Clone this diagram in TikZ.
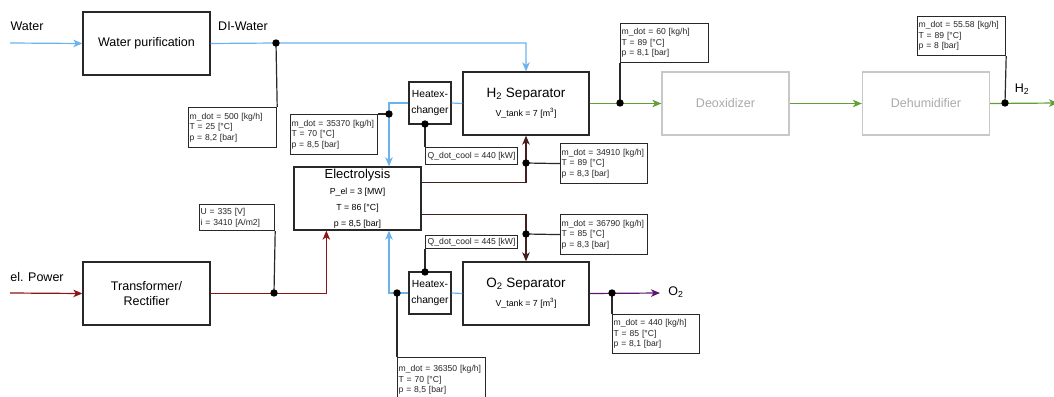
\documentclass[tikz,border=0pt]{standalone}
\usepackage{fontspec}
\setmainfont{Liberation Sans}
\usetikzlibrary{arrows.meta,calc}
\definecolor{cblue}{RGB}{108,178,236}
\definecolor{cgreen}{RGB}{96,160,52}
\definecolor{cred}{RGB}{140,22,22}
\definecolor{cbrown}{RGB}{70,30,30}
\definecolor{cpurple}{RGB}{92,22,112}
\definecolor{cgray}{RGB}{200,200,200}
\definecolor{cgraytext}{RGB}{170,170,170}
\definecolor{cbox}{RGB}{40,40,40}
\begin{document}
\begin{tikzpicture}[x=1pt,y=-1pt,
  tip/.style={-{Stealth[length=9pt,width=7.5pt,inset=2.5pt]}},
  box/.style={draw=cbox, line width=1.3pt, fill=white, align=center, inner sep=1pt,
    font=\fontsize{12.5}{15}\selectfont},
  graybox/.style={draw=cgray, line width=1.3pt, fill=white, align=center, text=cgraytext,
    minimum width=127pt, minimum height=63pt, font=\fontsize{12.5}{15}\selectfont},
  hxbox/.style={draw=cbox, line width=1.3pt, fill=white, align=center, inner sep=0pt,
    minimum width=42pt, minimum height=42pt, font=\fontsize{10.3}{16}\selectfont},
  info/.style={draw=cbox, line width=1.2pt, fill=white, anchor=north west, align=left,
    inner xsep=1pt, inner ysep=1pt, text=black!85, font=\fontsize{8.6}{10.5}\selectfont},
  qbox/.style={draw=cbox, line width=1.2pt, fill=white, anchor=north west,
    inner xsep=1pt, inner ysep=0pt, minimum width=92pt, text=black!85, font=\fontsize{8.6}{10.5}\selectfont},
  lbl/.style={font=\fontsize{12.5}{15}\selectfont, inner sep=0pt},
  bl/.style={draw=cblue, line width=1.2pt},
  gr/.style={draw=cgreen, line width=1.2pt},
  rd/.style={draw=cred, line width=1.2pt},
  br/.style={draw=cbrown, line width=1.2pt},
  pu/.style={draw=cpurple, line width=1.2pt},
  blk/.style={draw=cbox, line width=1.2pt},
  dotc/.style={fill=black}
]
\useasboundingbox (0,0) rectangle (1054,396);

% main boxes
\node[box, minimum width=127pt, minimum height=63pt] (wp) at (146.5,43.5) {Water purification};
\node[box, minimum width=127pt, minimum height=63pt] (tr) at (146.5,293.5) {Transformer/\\Rectifier};
\node[box, minimum width=127pt, minimum height=63pt, font=\fontsize{8.8}{16}\selectfont] (el) at (357.5,198.5)
  {{\fontsize{13}{16}\selectfont Electrolysis}\\P\_el = 3 [MW]\\T = 86 [°C]\\p = 8,5 [bar]};
\node[box, minimum width=126pt, minimum height=63pt, font=\fontsize{8.8}{19}\selectfont] (h2s) at (526,103.5)
  {{\fontsize{13.5}{19}\selectfont H\textsubscript{2} Separator}\\V\_tank = 7 [m\textsuperscript{3}]};
\node[box, minimum width=126pt, minimum height=63pt, font=\fontsize{8.8}{19}\selectfont] (o2s) at (526,293.5)
  {{\fontsize{13.5}{19}\selectfont O\textsubscript{2} Separator}\\V\_tank = 7 [m\textsuperscript{3}]};
\node[hxbox] (hx1) at (430,103) {Heatex-\\changer};
\node[hxbox] (hx2) at (430,293) {Heatex-\\changer};
\node[graybox] (deox) at (725.5,103.5) {Deoxidizer};
\node[graybox] (dehum) at (926,103.5) {Dehumidifier};

% info boxes
\node[info, text width=86pt, minimum height=40pt] (b500) at (188,107) {m\_dot = 500 [kg/h]\\T = 25 [°C]\\p = 8,2 [bar]};
\node[info, text width=85pt, minimum height=40pt] (b35370) at (290,114) {m\_dot = 35370 [kg/h]\\T = 70 [°C]\\p = 8,5 [bar]};
\node[qbox, minimum height=17pt] (bq440) at (425,147) {Q\_dot\_cool = 440 [kW]};
\node[info, text width=85pt, minimum height=40pt] (b34910) at (560,143) {m\_dot = 34910 [kg/h]\\T = 89 [°C]\\p = 8,3 [bar]};
\node[info, text width=85pt, minimum height=40pt] (b36790) at (560,214) {m\_dot = 36790 [kg/h]\\T = 85 [°C]\\p = 8,3 [bar]};
\node[qbox, minimum height=13pt] (bq445) at (425,235) {Q\_dot\_cool = 445 [kW]};
\node[info, text width=86pt, minimum height=45pt] (b36350) at (397,357) {m\_dot = 36350 [kg/h]\\T = 70 [°C]\\p = 8,5 [bar]};
\node[info, text width=85pt, minimum height=39pt] (b440) at (612,314) {m\_dot = 440 [kg/h]\\T = 85 [°C]\\p = 8,1 [bar]};
\node[info, text width=86pt, minimum height=39pt] (b60) at (620,23) {m\_dot = 60 [kg/h]\\T = 89 [°C]\\p = 8,1 [bar]};
\node[info, text width=86pt, minimum height=39pt] (b5558) at (917,16) {m\_dot = 55.58 [kg/h]\\T = 89 [°C]\\p = 8 [bar]};
\node[info, text width=73pt, minimum height=26pt] (bU) at (199,204) {U = 335 [V]\\i = 3410 [A/m2]};

% labels
\node[lbl] (lwater) at (27,26) {Water};
\node[lbl] (ldi) at (243,26) {DI-Water};
\node[lbl] (lpow) at (37,277) {el. Power};
\node[lbl] (lo2) at (676,292) {O\textsubscript{2}};
\node[lbl] (lh2) at (1022,89) {H\textsubscript{2}};

% junction coordinates
\coordinate (win) at (10,43);
\coordinate (pin) at (10,293);
\coordinate (d1) at (276,43);
\coordinate (d2) at (389,114);
\coordinate (d3) at (425,124);
\coordinate (d4) at (526,163);
\coordinate (d5) at (526,234);
\coordinate (d6) at (425,272);
\coordinate (d7) at (397,293);
\coordinate (d8) at (274,293);
\coordinate (d9) at (612,293);
\coordinate (d10) at (620,103);
\coordinate (d11) at (1005,103);
\coordinate (o2end) at (660,293);
\coordinate (h2end) at (1058,103);

% water side
\draw[bl,tip] (win) -- (wp.west);
\draw[bl,tip] (wp.east) -- (d1) -| (h2s.north);
\draw[blk] (d1) -- (b500.north east);
\draw[bl,tip] (hx1.west) -| (d2) -- (d2 |- el.north);
\draw[blk] (d2) -- (b35370.north east);
\draw[bl] (hx1.east) -- (h2s.west);
\draw[blk] (d3) -- (bq440.north west);
\draw[bl,tip] (hx2.west) -| (d2 |- el.south);
\draw[blk] (d7) -- (b36350.north west);
\draw[bl] (hx2.east) -- (o2s.west);
\draw[blk] (bq445.south west) -- (d6);

% electrolysis outputs
\draw[br,tip] ([yshift=-16pt]el.north east) -| (h2s.south);
\draw[blk] (d4) -- (b34910.west);
\draw[br,tip] ([yshift=16pt]el.south east) -| (o2s.north);
\draw[blk] (d5) -- (b36790.west);

% power
\draw[rd,tip] (pin) -- (tr.west);
\draw[rd,tip] (tr.east) -| ([xshift=33pt]el.south west);
\draw[blk] (d8) -- (bU.south east);

% products
\draw[pu,tip] (o2s.east) -- (o2end);
\draw[blk] (d9) -- (b440.north west);
\draw[gr,tip] (h2s.east) -- (deox.west);
\draw[blk] (d10) -- (b60.south west);
\draw[gr,tip] (deox.east) -- (dehum.west);
\draw[gr,tip] (dehum.east) -- (h2end);
\draw[blk] (d11) -- (b5558.south east);

% dots
\foreach \d in {d1,d2,d3,d4,d5,d6,d7,d8,d9,d10,d11}
  \fill[dotc] (\d) circle (3.7pt);
\end{tikzpicture}
\end{document}
